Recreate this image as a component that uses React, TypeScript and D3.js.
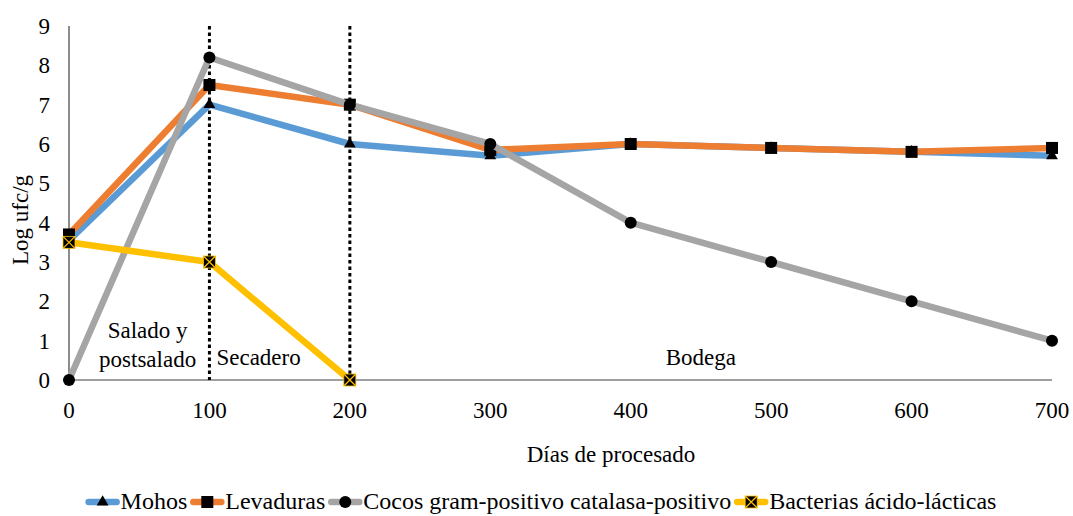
import React, { useEffect, useRef } from 'react';
import * as d3 from 'd3';

// Processing days (x) and log counts per microbial group (y)
const days = [0, 100, 200, 300, 400, 500, 600, 700];
const mohos = [3.55, 7.0, 6.0, 5.7, 6.0, 5.9, 5.8, 5.7];
const levaduras = [3.7, 7.5, 7.0, 5.85, 6.0, 5.9, 5.8, 5.9];
const cocos = [0, 8.2, 7.0, 6.0, 4.0, 3.0, 2.0, 1.0];
const bacterias = [3.5, 3.0, 0];

const seriesNames = ['Mohos', 'Levaduras', 'Cocos gram-positivo catalasa-positivo', 'Bacterias ácido-lácticas'];
const seriesValues = [mohos, levaduras, cocos, bacterias];
const seriesColors = ['#5B9BD5', '#ED7D31', '#A5A5A5', '#FFC000'];
const seriesMarkers = ['triangle', 'square', 'circle', 'xsquare'];

const yTicks = [0, 1, 2, 3, 4, 5, 6, 7, 8, 9];
const xTicks = [0, 100, 200, 300, 400, 500, 600, 700];

// Phase boundaries (dotted verticals) and phase names
const phaseBoundaries = [100, 200];
const phaseLabels = [
  { day: 56, lines: ['Salado y', 'postsalado'] },
  { day: 135, lines: ['Secadero'] },
  { day: 450, lines: ['Bodega'] },
];

const W = 1073;
const H = 516;
const FONT = '"Liberation Serif", "Times New Roman", serif';

function drawMarker(g: d3.Selection<SVGGElement, unknown, null, undefined>, kind: string, cx: number, cy: number, color: string) {
  if (kind === 'triangle') {
    g.append('path')
      .attr('d', d3.symbol().type(d3.symbolTriangle).size(60)())
      .attr('transform', `translate(${cx},${cy})`)
      .attr('fill', '#000');
  } else if (kind === 'square') {
    g.append('rect').attr('x', cx - 6).attr('y', cy - 6).attr('width', 12).attr('height', 12).attr('fill', '#000');
  } else if (kind === 'circle') {
    g.append('circle').attr('cx', cx).attr('cy', cy).attr('r', 6).attr('fill', '#000');
  } else {
    g.append('rect').attr('x', cx - 6).attr('y', cy - 6).attr('width', 12).attr('height', 12)
      .attr('fill', '#000').attr('stroke', color).attr('stroke-width', 0.8);
    g.append('path')
      .attr('d', `M${cx - 6},${cy - 6}L${cx + 6},${cy + 6}M${cx + 6},${cy - 6}L${cx - 6},${cy + 6}`)
      .attr('stroke', color).attr('stroke-width', 1.2);
  }
}

export default function App() {
  const ref = useRef<SVGSVGElement>(null);

  useEffect(() => {
    const svg = d3.select(ref.current);
    svg.selectAll('*').remove();

    const x = d3.scaleLinear().domain([0, 700]).range([69, 1052]);
    const y = d3.scaleLinear().domain([0, 9]).range([380, 26]);

    // Axes lines
    svg.append('line').attr('x1', x(0)).attr('x2', x(0)).attr('y1', y(9)).attr('y2', y(0))
      .attr('stroke', '#404040').attr('stroke-width', 1.2);
    svg.append('line').attr('x1', x(0)).attr('x2', x(700)).attr('y1', y(0)).attr('y2', y(0))
      .attr('stroke', '#404040').attr('stroke-width', 1.2);

    // Tick labels
    svg.append('g').selectAll('text').data(yTicks).join('text')
      .attr('x', 50).attr('y', (d) => y(d)).attr('dy', '0.35em')
      .attr('text-anchor', 'end').attr('font-family', FONT).attr('font-size', 23).attr('fill', '#000')
      .text((d) => d);
    svg.append('g').selectAll('text').data(xTicks).join('text')
      .attr('x', (d) => x(d)).attr('y', 418)
      .attr('text-anchor', 'middle').attr('font-family', FONT).attr('font-size', 23).attr('fill', '#000')
      .text((d) => d);

    // Axis titles
    svg.append('text').attr('x', 611).attr('y', 462).attr('text-anchor', 'middle')
      .attr('font-family', FONT).attr('font-size', 23).attr('fill', '#000').text('Días de procesado');
    svg.append('text').attr('transform', `translate(28,220) rotate(-90)`).attr('text-anchor', 'middle')
      .attr('font-family', FONT).attr('font-size', 23).attr('fill', '#000').text('Log ufc/g');

    // Phase boundaries
    svg.append('g').selectAll('line').data(phaseBoundaries).join('line')
      .attr('x1', (d) => x(d)).attr('x2', (d) => x(d)).attr('y1', y(9)).attr('y2', y(0))
      .attr('stroke', '#000').attr('stroke-width', 3).attr('stroke-dasharray', '3.5 3');

    // Phase labels
    phaseLabels.forEach((p) => {
      const t = svg.append('text').attr('text-anchor', 'middle')
        .attr('font-family', FONT).attr('font-size', 23).attr('fill', '#000');
      const base = p.lines.length > 1 ? 338 : 365;
      p.lines.forEach((ln, i) => {
        t.append('tspan').attr('x', x(p.day)).attr('y', base + i * 29).text(ln);
      });
    });

    // Series
    const line = d3.line<number>().x((_, i) => x(days[i])).y((d) => y(d));
    seriesValues.forEach((vals, si) => {
      const g = svg.append('g');
      g.append('path').attr('d', line(vals))
        .attr('fill', 'none').attr('stroke', seriesColors[si]).attr('stroke-width', 6.5)
        .attr('stroke-linejoin', 'round').attr('stroke-linecap', 'round');
      vals.forEach((v, i) => drawMarker(g as any, seriesMarkers[si], x(days[i]), y(v), seriesColors[si]));
    });

    // Legend, laid out left to right and centred
    const legend = svg.append('g');
    let cursor = 0;
    const ly = 502;
    seriesNames.forEach((name, si) => {
      const item = legend.append('g');
      item.append('line').attr('x1', cursor + 3).attr('x2', cursor + 31).attr('y1', ly).attr('y2', ly)
        .attr('stroke', seriesColors[si]).attr('stroke-width', 6.5).attr('stroke-linecap', 'round');
      drawMarker(item as any, seriesMarkers[si], cursor + 17, ly, seriesColors[si]);
      const t = item.append('text').attr('x', cursor + 35).attr('y', 509)
        .attr('font-family', FONT).attr('font-size', 24).attr('fill', '#000').text(name);
      const w = (t.node() as SVGTextElement).getComputedTextLength();
      cursor += 35 + w + 3;
    });
    const total = cursor - 3;
    legend.attr('transform', `translate(${541 - total / 2},0)`);
  }, []);

  return (
    <div style={{ position: 'absolute', left: 0, top: 0 }}>
      <svg ref={ref} width={W} height={H} style={{ display: 'block', background: '#fff' }} />
    </div>
  );
}
